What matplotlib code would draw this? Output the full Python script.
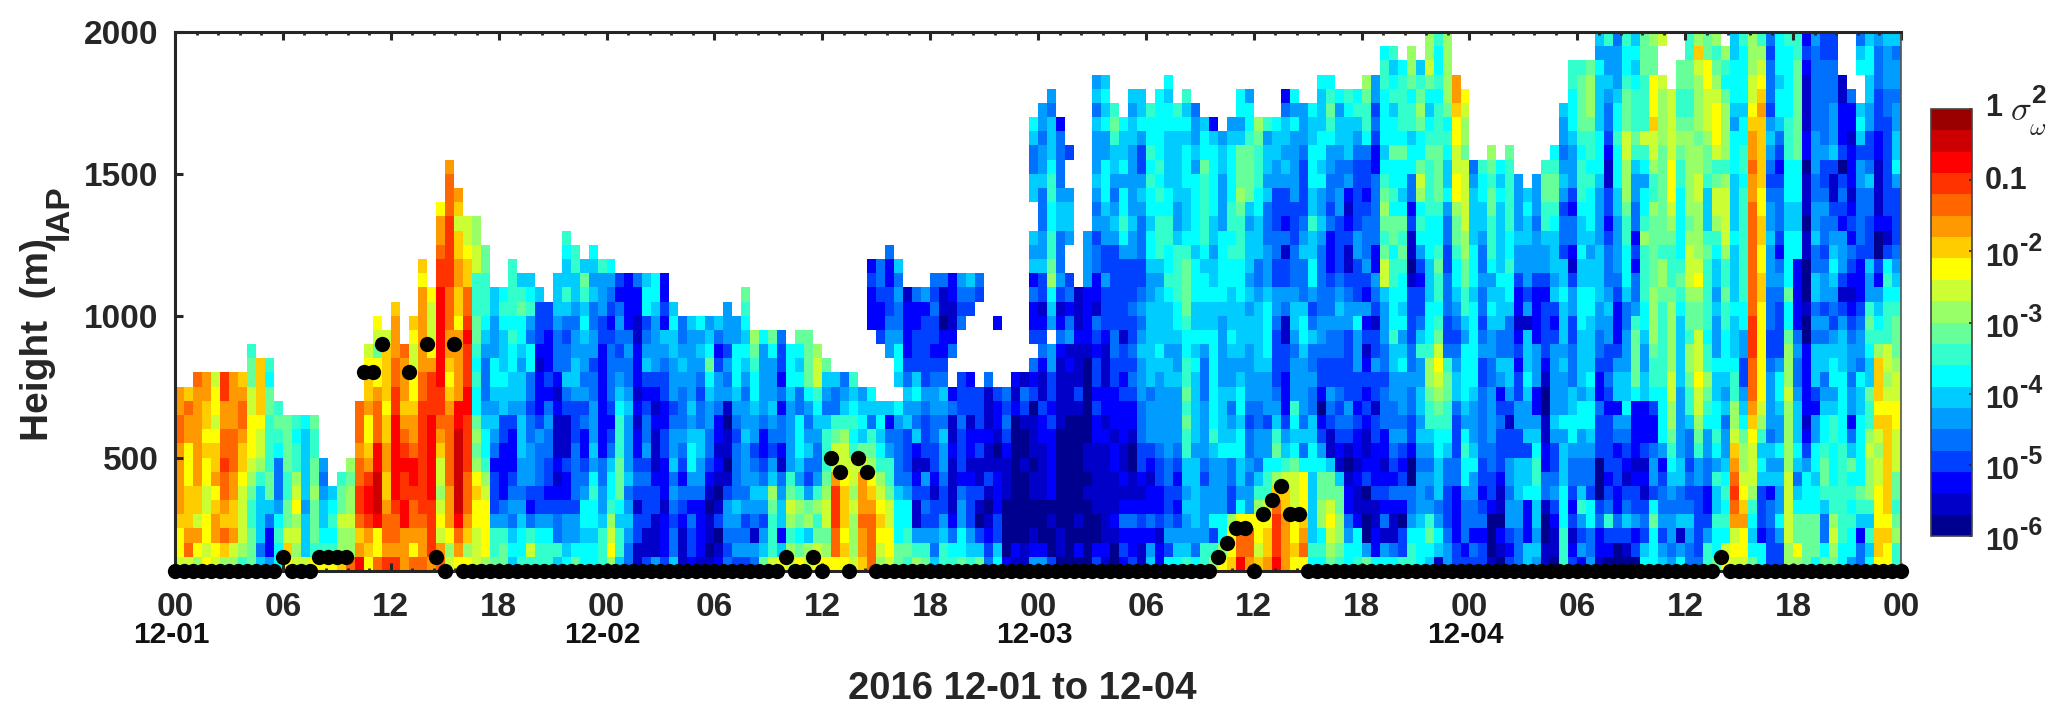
import numpy as np
import matplotlib
matplotlib.use("Agg")
import matplotlib.pyplot as plt
from matplotlib.colors import ListedColormap, LogNorm
from matplotlib.ticker import MultipleLocator, FixedLocator, NullLocator, NullFormatter

# Colour levels, one string per half-hour column, bottom (100 m) upward.
# 0-9,a-j = the 20 colour-bar classes (0 = 1e-6 ... j = 1); '.' = no data.
day1_columns = [
"bccdeeeeeffee","bfedddccceefd","acebddeeeeeeef","cbccbbccdcddee","bceedceddcbccb","adfdeffgffeegg",
"abeddeefffeeee","8abbbbcddeffed","999889abcccbb998","6466668abbcdddd","522469988889978","778754447898",
"cdb99889999","babacba8878","b6665666667","c8999a99889","c8766545","c87876","daab998","faabaa9a",
"hedfggffefff","cdeghhgedcceddcb","fcchiiihhfffecc9bc","geffeddeeddcddddb","geffghhhhhhggffeeed",
"eeehhgghgfedeeef","fceffghhfeedccbbcd","feefggggggggffeeeeeecd","egggghhhhhhgggecbbbc",
"febcbabbdefgghhhhhhhggfeec","baceeefffffedcdeefffgggggfffe","cefhiiiiiihheeeeecddeeddbde",
"cadefffgggghhggghgffddcbb","bbbccdca9a97787899888bbaa","accccba8776544456788899","98853332456567755566",
"99854222233667666787","6764543222356677878888","877654556665665677986","8b8423555443447745876",
"88753344453222123336","8875323344542322233","684432121112124445666","765532231113464434686678",
"97553444433356655456688","7767754322435455676896","77677875655544355446567","8886554422222222335558",
]
day2_columns = [
"acba877643234444323457","688679998887654345423","445654655556544542222","113313432212122211224",
"311333435443236543776","511133211121235555677","322212223322334562322","6443454655435556676",
"111234234544456544","233424577656555556","122224556644345657","101101234455679765","210310121224553246",
"4345531011015453555","354564444345677755","35435455565545676789","4514565435567789a","96535643224555557",
"b8889a65345655579","c6266541244242334","ba8ab98555556777","c979a856777447679","ba6a9534654579999",
"cb98a85445678bba","ca9bba988864569","cffgggebb98446","cdcdddcbba8654","baaababb878768","deefeeeb96765",
"ffffedca98467....22232","abcdcba87676....322344","bccbb9885426...55433224","997776444457.677544546",
"89877543336564322221","a8511321264576333224","98534351333453333325","645331233445543233434",
"886533455645643220114","8742111121142..421122","97755423334333...4345","86533321221332....346",
"9630131132333......34","43210131121114","7633222101223....2","2000011123434","12000000000212",
"11000001001341","521001101110324.32242656..664467",
]
day3_columns = [
"520001111223112432133655444655455","3001022222323355.567a9887788766645","01100000001111124213544466544442",
"000000000001112154243..5665..3","02010000000131112111","000001011000000122225555",
"32001111122323323412244354565556465","12111111121221112333533556777557676","001211122122233443333335654566898",
"23242121122232331333335787757667","3224211001223434334333556555556656","1123212334445556545433444565335766",
"652422123555466666655677677878778","2213223345555567666656888787877777","73543344555556656667877887766667767",
"765323234555565567788886556666678","8655656688989887789999876667776768","745666665666667676677767777756554",
"88555534555544457667767888889776","a8375555687777777667665667777762","ca77555576666555556777775555665",
"dcca3344765465567666778788777765","hffc7566776776566667778889a9996577","effc554544345555665656665699998775",
"dbcca86455445566666544666778889a","eddcb887553555677776555444656658","hgggfda7986543333455334433355667",
"eeeeddb865322233114533142335656642","cdccbbb976785554566544433355555757","cfedccc74645555677644465433334555",
"786666677664454464357766866777667","787aa997532023345544444565576776667","9abcb996113453344544322243445578987",
"89aa996123434334456543333554456657","7754221013453333355431132125466678","8772112122323355575333553333345687",
"95001032112323213252354443233 47889a".replace(" ",""),"72211322233133533134522444442234355",
"7514232122444344555 6bb989a98767777887".replace(" ",""),"74112423454455668777887997877 97768768".replace(" ",""),
"8330243235455576576778989767 79788887".replace(" ",""),"88754400233445443333101132447768879aa",
"7776555456566558643323 5787ab9779a986".replace(" ",""),"6798545456889aa877766677788889 87679baa".replace(" ",""),
"167546667789abcb9878898778999988878778","554333446788998433444334457667879aaaaa",
"3322224433346654345677899accbbccdee","3244457787567777568899aabbbbb9aabc",
]
day4_columns = [
"34244557655567777776777666654","33243233444443354344544566778","10002334455554455676578889989a",
"01201123334325644666766666767","32355455331356644467"+"7877888889","4445566633553323212235565555",
"66222766365567666153"+"5556676","5656678876522555222235554555","1100144221"+"1001233332355688998",
"01123543356555553236"+"5666789987","88877766657555656667"+"6634435654556","32132344577664443355"+"3124423555677788",
"25358644557756666777"+"6676678887899998","54477344567767666677"+"665677787889aaa9","12243000333422344556"+"666555567776666756",
"02384323333234335565"+"444323311234456558","00342233245266532223"+"455556677787765554","01364312345766555446"+"777889aaabb9998778",
"03253321222279999854"+"423244556898887676","76343121322266556778"+"888a877578b8888999","7779735542237889aaaa"+"99999a88abbdccc99a",
"65354432577778888889"+"aa89999999aaaab..b","545545678 9aabbaaaaa9".replace(" ","")+"8889abcccbbbbb","75164466555556666678"+"9877777889a98899",
"44564343446889aa899a"+"bbba9aaaaaa9889988","4333335589abbcbbb99a"+"cbaaaabbaa9aaaabda","8853224455789a887888"+"8898666899abbbcc99",
"97786685787766755565"+"6678abb98bcccba98a","cb787876554656777889"+"88abbbba8aaaa978a.","bcbefgfedbaa88766676"+"666766667775677766",
"bccedcbaa97653355778"+"888888878877677778","97678abbbcdefffgggff"+"ffffffeefeedcbbaaa","7723336768abcccccccd"+"dccddccdddddedcba8",
"33344265645555433444"+"555655434565344434","33575565755677533334"+"542344432346776777","aabbbbbaaaaabaaa9779"+"777766777888777778",
"ac997646766654454222"+"227766777999999988","99997775321222220010"+"001101110221111232","79997767755236664546"+"644655445554444445",
"97446899877654664535"+"543445433544444433","9aba8877788657765345"+"676543113655544433","77888888877777666531"+"355523430322211",
"57787879642554554321"+"23423212221224","44268977777667455432"+"2234444553676..764","76868aaaba8896678985"+"563334464335566776",
"cddcccbbabdcddda8765"+"230021111223334445","ccdcdddddddcbabb8887"+"873123333333445556","88a9899bbbccbba99987"+"654333357665545546",
]

# Boundary-layer height (black dots), one value per half hour; None = no dot.
dot_heights = [
100,100,100,100,100,100,100,100,100,100,100,100,150,100,100,100,150,150,150,150,None,800,800,900,
None,None,800,None,900,150,100,900,100,100,100,100,100,100,100,100,100,100,100,100,100,100,100,100,
100,100,100,100,100,100,100,100,100,100,100,100,100,100,100,100,100,100,100,100,150,100,100,150,
100,500,450,100,500,450,100,100,100,100,100,100,100,100,100,100,100,100,100,100,100,100,100,100,
100,100,100,100,100,100,100,100,100,100,100,100,100,100,100,100,100,100,100,100,150,200,250,250,
100,300,350,400,300,300,100,100,100,100,100,100,100,100,100,100,100,100,100,100,100,100,100,100,
100,100,100,100,100,100,100,100,100,100,100,100,100,100,100,100,100,100,100,100,100,100,100,100,
100,100,100,100,150,100,100,100,100,100,100,100,100,100,100,100,100,100,100,100,100,100,100,100,
100,
]

class_colors = ["#00008f","#0000c8","#0000ff","#0040ff","#0070ff","#009cff","#00ccff","#00ffff","#33ffcc","#66ff99",
                "#99ff66","#ccff33","#ffff00","#ffcc00","#ff9900","#ff6600","#ff3300","#ff0000","#cc0000","#990000"]
hour_labels = ["00","06","12","18"] * 4 + ["00"]
date_labels = ["12-01","12-02","12-03","12-04"]
date_hours = [0,24,48,72]
ink = "#262626"

W, H = 2067, 723
plt.rcParams['font.family'] = ['Liberation Sans','DejaVu Sans']
plt.rcParams['font.weight'] = 'bold'
fig = plt.figure(figsize=(W/100, H/100), dpi=100)
def box(l,t,r,b): return [l/W, 1-b/H, (r-l)/W, (b-t)/H]
def ftext(x,y,s,**k): return fig.text(x/W, 1-y/H, s, color=k.pop('color',ink), ha=k.pop('ha','center'), va=k.pop('va','center'), **k)

ax = fig.add_axes(box(175,32,1901,571))
columns = day1_columns + day2_columns + day3_columns + day4_columns
n_rows = 38
grid = np.full((n_rows, len(columns)), np.nan)
for c, s in enumerate(columns):
    for r, ch in enumerate(s[:n_rows]):
        if ch != '.':
            grid[r, c] = 10 ** (-6 + (int(ch, 20) + 0.5) * 0.3)
x_edges = np.arange(len(columns)+1) * 0.5
y_edges = 100 + 50 * np.arange(n_rows+1)
cmap = ListedColormap(class_colors)
cmap.set_bad('white')
norm = LogNorm(1e-6, 1)
mesh = ax.pcolormesh(x_edges, y_edges, np.ma.masked_invalid(grid), cmap=cmap, norm=norm, antialiased=False, linewidth=0)

dots = np.array([np.nan if v is None else v for v in dot_heights], dtype=float)
ax.plot(np.arange(len(dots))*0.5, dots, 'o', color='black', ms=11, mew=0, clip_on=False, zorder=6)

ax.set_xlim(0,96); ax.set_ylim(100,2000)
ax.xaxis.set_major_locator(FixedLocator(np.arange(len(hour_labels))*6))
ax.set_xticklabels(hour_labels)
ax.xaxis.set_minor_locator(MultipleLocator(1.2))
ax.set_yticks([500,1000,1500,2000])
ax.tick_params(axis='both', which='major', direction='in', length=6, width=2.2, color=ink, labelcolor=ink, labelsize=24, top=True, right=False)
ax.tick_params(axis='x', which='major', pad=15)
ax.tick_params(axis='y', which='major', pad=12)
ax.tick_params(axis='x', which='minor', direction='in', length=2.5, width=2, color=ink, top=True)
for sp in ax.spines.values():
    sp.set_color(ink); sp.set_linewidth(2.2)
ax.spines['right'].set_linewidth(1.2)
ax.spines['right'].set_color('#555555')

for lab, h in zip(date_labels, date_hours):
    ftext(175 + h*1726/96 - 4, 635, lab, fontsize=21.5, weight='bold', color='#111111')
ftext(1022, 689, "2016 12-01 to 12-04", fontsize=27.5, weight='bold')
ftext(38, 340, "Height  (m)", fontsize=28, rotation=90, weight='bold')
ftext(59, 212, "IAP", fontsize=24, rotation=90, weight='bold')

cax = fig.add_axes(box(1931,109,1972,536))
cb = fig.colorbar(mesh, cax=cax)
cb.ax.yaxis.set_major_locator(FixedLocator([1e-6,1e-5,1e-4,1e-3,1e-2,1e-1,1]))
cb.ax.yaxis.set_minor_locator(NullLocator())
cb.ax.yaxis.set_major_formatter(NullFormatter())
cb.ax.yaxis.set_minor_formatter(NullFormatter())
cb.ax.tick_params(axis='y', which='major', direction='in', length=2.5, width=1.2, color=ink)
cb.outline.set_edgecolor('#444444'); cb.outline.set_linewidth(1.2)

ftext(1985, 108, "1", fontsize=22, ha='left', weight='bold')
ftext(1985, 181, "0.1", fontsize=22, ha='left', weight='bold')
for e, y in zip([2,3,4,5,6], [258,329,400,471,542]):
    ftext(1985, y, "10", fontsize=22, ha='left', weight='bold')
    ftext(2020, y-14, "-%d" % e, fontsize=18, ha='left', weight='bold')
ftext(2021, 111, r"$\sigma$", fontsize=25, math_fontfamily='cm')
ftext(2038, 96, "2", fontsize=19, weight='bold')
ftext(2038, 128, r"$\omega$", fontsize=18, math_fontfamily='cm')

fig.savefig("out.png", dpi=100, facecolor='white')
